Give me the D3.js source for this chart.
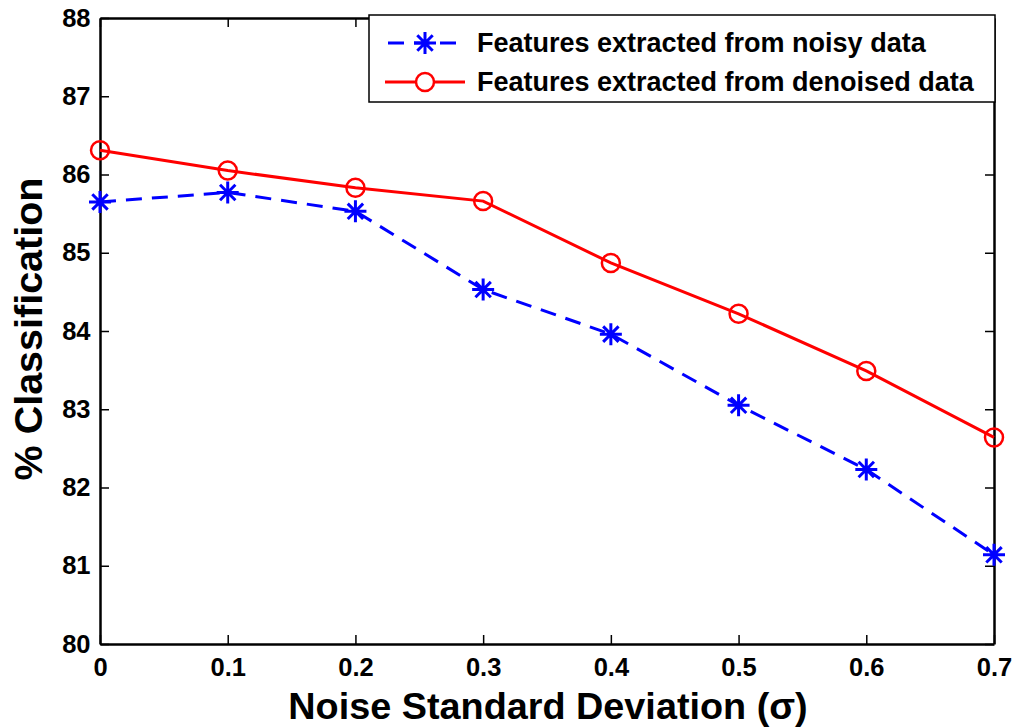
<!DOCTYPE html>
<html>
<head>
<meta charset="utf-8">
<script src="https://cdn.jsdelivr.net/npm/d3@7"></script>
<style>
  body { margin: 0; background: #fff; }
  text { font-family: "Liberation Sans", Arial, Helvetica, sans-serif; font-weight: bold; }
</style>
</head>
<body>
<div id="chart"></div>
<script>
// Dữ liệu
const sigma = [0, 0.1, 0.2, 0.3, 0.4, 0.5, 0.6, 0.7];
const noisyAcc = [85.65, 85.77, 85.53, 84.53, 83.96, 83.05, 82.23, 81.14];
const denoisedAcc = [86.31, 86.05, 85.83, 85.66, 84.87, 84.22, 83.49, 82.64];
const xTicks = [0, 0.1, 0.2, 0.3, 0.4, 0.5, 0.6, 0.7];
const yTicks = [80, 81, 82, 83, 84, 85, 86, 87, 88];
const legendLabels = ['Features extracted from noisy data', 'Features extracted from denoised data'];

const width = 1016, height = 727;
const margin = { left: 100, right: 22, top: 18, bottom: 83 };
const innerW = width - margin.left - margin.right;
const innerH = height - margin.top - margin.bottom;

const svg = d3.select('#chart').append('svg')
    .attr('width', width)
    .attr('height', height);

const x = d3.scaleLinear().domain([0, 0.7]).range([margin.left, margin.left + innerW]);
const y = d3.scaleLinear().domain([80, 88]).range([margin.top + innerH, margin.top]);

const fmtX = d => d === 0 ? '0' : d3.format('.1f')(d);

// Trục dưới và trên (tick hướng vào trong)
svg.append('g')
    .attr('transform', `translate(0,${margin.top + innerH})`)
    .call(d3.axisBottom(x).tickValues(xTicks).tickFormat(fmtX).tickSizeInner(-9).tickSizeOuter(0).tickPadding(14))
    .call(g => g.selectAll('text').attr('font-size', 25.5).attr('fill', '#000'));
svg.append('g')
    .attr('transform', `translate(0,${margin.top})`)
    .call(d3.axisTop(x).tickValues(xTicks).tickFormat('').tickSizeInner(-9).tickSizeOuter(0));

// Trục trái và phải
svg.append('g')
    .attr('transform', `translate(${margin.left},0)`)
    .call(d3.axisLeft(y).tickValues(yTicks).tickFormat(d3.format('d')).tickSizeInner(-9).tickSizeOuter(0).tickPadding(9.5))
    .call(g => g.selectAll('text').attr('font-size', 25.5).attr('fill', '#000'));
svg.append('g')
    .attr('transform', `translate(${margin.left + innerW},0)`)
    .call(d3.axisRight(y).tickValues(yTicks).tickFormat('').tickSizeInner(-9).tickSizeOuter(0));

svg.selectAll('.domain').attr('stroke', '#000').attr('stroke-width', 2.5);
svg.selectAll('.tick line').attr('stroke', '#000').attr('stroke-width', 1.5);

// Nhãn trục
svg.append('text')
    .attr('x', (288 + 808) / 2)
    .attr('y', 719)
    .attr('text-anchor', 'middle')
    .attr('font-size', 37.8)
    .text('Noise Standard Deviation (σ)');
svg.append('text')
    .attr('transform', `translate(42,329) rotate(-90)`)
    .attr('text-anchor', 'middle')
    .attr('font-size', 39.5)
    .text('% Classification');

const line = d3.line().x(d => x(d[0])).y(d => y(d[1]));

const asterisk = (s) => `M${-s},0L${s},0M0,${-s}L0,${s}M${-s*0.7},${-s*0.7}L${s*0.7},${s*0.7}M${-s*0.7},${s*0.7}L${s*0.7},${-s*0.7}`;

// Đường nhiễu (xanh, nét đứt)
const noisyPts = sigma.map((s, i) => [s, noisyAcc[i]]);
svg.append('path')
    .datum(noisyPts)
    .attr('d', line)
    .attr('fill', 'none')
    .attr('stroke', '#0000ff')
    .attr('stroke-width', 3)
    .attr('stroke-dasharray', '16,10');
svg.append('g').selectAll('path')
    .data(noisyPts)
    .join('path')
    .attr('transform', d => `translate(${x(d[0])},${y(d[1])})`)
    .attr('d', asterisk(11))
    .attr('stroke', '#0000ff')
    .attr('stroke-width', 3);

// Đường khử nhiễu (đỏ, nét liền)
const denoisedPts = sigma.map((s, i) => [s, denoisedAcc[i]]);
svg.append('path')
    .datum(denoisedPts)
    .attr('d', line)
    .attr('fill', 'none')
    .attr('stroke', '#ff0000')
    .attr('stroke-width', 3);
svg.append('g').selectAll('circle')
    .data(denoisedPts)
    .join('circle')
    .attr('cx', d => x(d[0]))
    .attr('cy', d => y(d[1]))
    .attr('r', 9)
    .attr('fill', 'none')
    .attr('stroke', '#ff0000')
    .attr('stroke-width', 2.5);

// Chú giải
const legend = svg.append('g');
legend.append('rect')
    .attr('x', 369).attr('y', 15)
    .attr('width', 626).attr('height', 87)
    .attr('fill', '#fff')
    .attr('stroke', '#000')
    .attr('stroke-width', 1.5);

const rows = [43, 82];
// hàng 1: nét đứt xanh + dấu sao
legend.append('line').attr('x1', 385).attr('x2', 465).attr('y1', rows[0]).attr('y2', rows[0])
    .attr('stroke', '#0000ff').attr('stroke-width', 3).attr('stroke-dasharray', '16,10')
    .attr('stroke-dashoffset', -3);
legend.append('path').attr('transform', `translate(425,${rows[0]})`).attr('d', asterisk(11))
    .attr('stroke', '#0000ff').attr('stroke-width', 3);
// hàng 2: đường đỏ + vòng tròn
legend.append('line').attr('x1', 385).attr('x2', 465).attr('y1', rows[1]).attr('y2', rows[1])
    .attr('stroke', '#ff0000').attr('stroke-width', 3);
legend.append('circle').attr('cx', 425).attr('cy', rows[1]).attr('r', 9)
    .attr('fill', '#fff').attr('stroke', '#ff0000').attr('stroke-width', 2.5);

legend.selectAll('text.lbl')
    .data(legendLabels)
    .join('text')
    .attr('class', 'lbl')
    .attr('x', 477)
    .attr('y', (d, i) => rows[i])
    .attr('dy', '0.35em')
    .attr('font-size', 27)
    .text(d => d);
</script>
</body>
</html>
